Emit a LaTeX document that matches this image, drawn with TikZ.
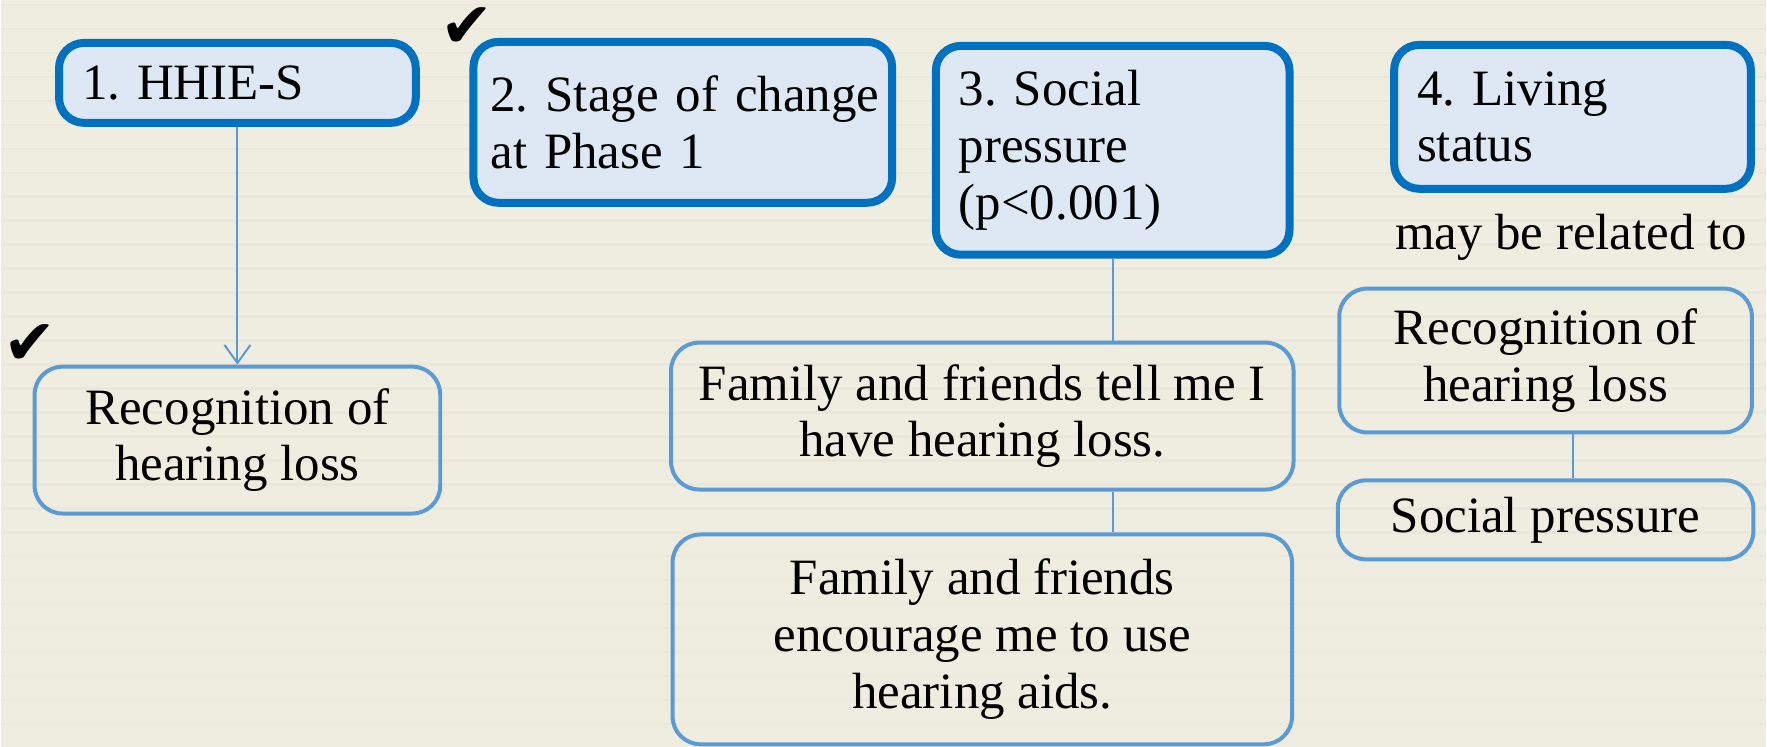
\documentclass[tikz,border=0pt]{standalone}
\usepackage{fontspec}
\setmainfont{Liberation Serif}
\newfontfamily\marksfont{DejaVu Sans}
\usepackage{tikz}
\usetikzlibrary{arrows.meta,positioning}
\definecolor{hdblue}{RGB}{0,112,192}
\definecolor{hdfill}{RGB}{221,232,244}
\definecolor{subblue}{RGB}{91,155,213}
\definecolor{paper}{RGB}{239,236,224}
\definecolor{paperline}{RGB}{234,231,219}
\frenchspacing

\begin{document}
\begin{tikzpicture}[
  x=0.01cm, y=-0.01cm,
  head/.style={draw=hdblue, line width=0.08cm, fill=hdfill, rounded corners=0.25cm,
               align=left, inner xsep=0.23cm, inner ysep=0pt,
               font=\fontsize{14.5}{16.2}\selectfont},
  sub/.style={draw=subblue, line width=0.04cm, rounded corners=0.28cm, align=center,
              inner sep=0pt, font=\fontsize{14.5}{16.2}\selectfont},
  link/.style={subblue, line width=0.02cm},
  tick/.style={font=\marksfont\fontsize{18}{18}\selectfont, inner sep=0pt}
]
% lined paper
\fill[paper] (0,0) rectangle (1767,748);
\foreach \y in {5,29,...,748}
  \draw[paperline, line width=0.025cm] (0,\y) -- (1767,\y);
\useasboundingbox (0,0) rectangle (1767,748);

% the four factors
\node[head, text width=3.11cm, minimum height=0.80cm] (hhie)   at (236.5,83)    {1. HHIE-S};
\node[head, text width=3.85cm, inner xsep=0.17cm, minimum height=1.61cm] (stage) at (682.5,122.5) {\mbox{2. Stage of change}\\at Phase 1};
\node[head, text width=3.08cm, minimum height=2.09cm] (press)  at (1113,150.5)  {3. Social\\pressure\\(p<0.001)};
\node[head, text width=3.11cm, minimum height=1.44cm] (living) at (1573.5,117)  {4. Living\\status};

% what they lead to
\node[sub, minimum width=4.06cm, minimum height=1.47cm, below=2.38cm of hhie] (recog) {Recognition of\\hearing loss};
\node[sub, minimum width=6.23cm, minimum height=1.47cm, below=0.82cm of press, xshift=-1.305cm] (tell) {Family and friends tell me I\\have hearing loss.};
\node[sub, minimum width=6.2cm, minimum height=2.1cm, below=0.41cm of tell] (encour) {Family and friends\\encourage me to use\\hearing aids.};
\node[anchor=base, font=\fontsize{14.5}{16.2}\selectfont] (rel) at (1572,250) {may be related to};
\node[sub, minimum width=4.13cm, minimum height=1.44cm] (recogb) at (1546.5,361) {Recognition of\\hearing loss};
\node[sub, minimum width=4.16cm, minimum height=0.79cm, below=0.44cm of recogb] (pressb) {Social pressure};

\draw[link, -{Straight Barb[length=0.18cm, width=0.26cm]}] (hhie) -- (recog);
\draw[link] (press.south) -- (press.south |- tell.north);
\draw[link] (tell.south -| press.south) -- (encour.north -| press.south);
\draw[link] (recogb.south -| living.south) -- (pressb.north -| living.south);

% check marks
\node[tick] (tick1) at (29,345) {✔};
\node[tick] (tick2) at (466,28)  {✔};
\end{tikzpicture}
\end{document}
